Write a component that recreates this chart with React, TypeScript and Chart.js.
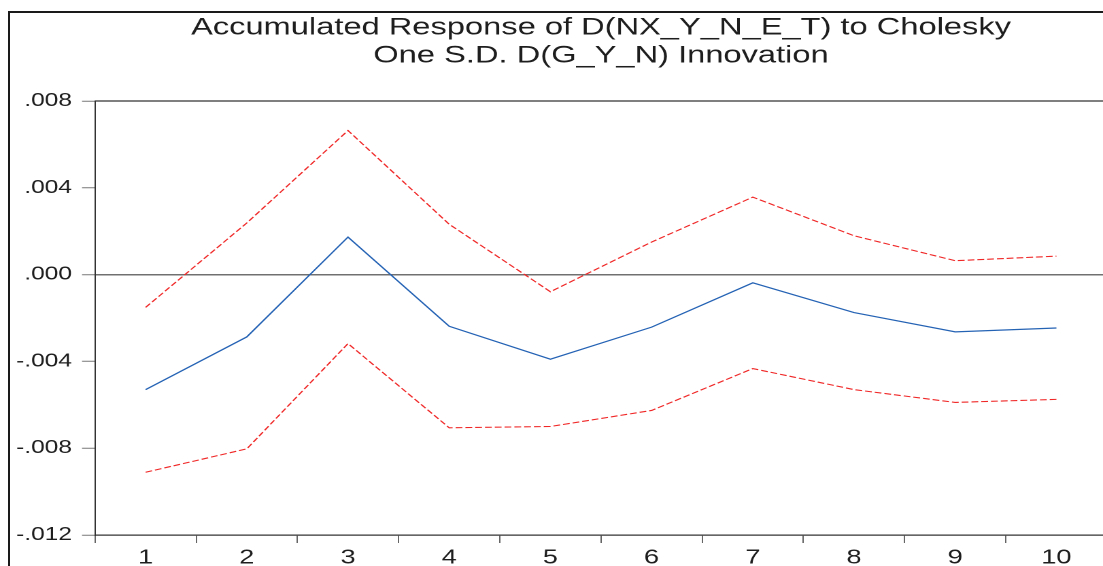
import React, { useEffect, useRef } from "react";
import { Chart, registerables } from "chart.js";

Chart.register(...registerables);

const periods = ["1", "2", "3", "4", "5", "6", "7", "8", "9", "10"];
const response = [-0.0053, -0.00287, 0.00173, -0.00238, -0.0039, -0.00242, -0.00038, -0.00175, -0.00264, -0.00246];
const upperBand = [-0.00151, 0.00238, 0.00664, 0.00232, -0.00079, 0.0015, 0.00357, 0.00179, 0.00064, 0.00085];
const lowerBand = [-0.00911, -0.00803, -0.00318, -0.00706, -0.007, -0.00626, -0.00433, -0.0053, -0.00589, -0.00575];
const yTicks = [-0.012, -0.008, -0.004, 0, 0.004, 0.008];
const titleLines = ["Accumulated Response of D(NX_Y_N_E_T) to Cholesky", "One S.D. D(G_Y_N) Innovation"];

const S = 1.36; // horizontal stretch of the original picture
const W = 820;
const H = 566;
const FONT = "'Liberation Sans', Arial, sans-serif";

const fmt = (v: number) => {
  const s = Number(v).toFixed(3);
  return s.replace(/^(-?)0\./, "$1.");
};

const topBorder = {
  id: "topBorder",
  afterDraw(chart: any) {
    const { ctx, chartArea } = chart;
    ctx.save();
    ctx.strokeStyle = "#333";
    ctx.lineWidth = 1.2;
    ctx.beginPath();
    ctx.moveTo(chartArea.left, chartArea.top);
    ctx.lineTo(chartArea.right + 10, chartArea.top);
    ctx.stroke();
    ctx.restore();
  },
};

export default function App() {
  const ref = useRef<HTMLCanvasElement | null>(null);

  useEffect(() => {
    if (!ref.current) return;
    const chart = new Chart(ref.current, {
      type: "line",
      data: {
        labels: periods,
        datasets: [
          {
            data: upperBand,
            borderColor: "#f02626",
            borderWidth: 1.1,
            borderDash: [5, 2.2],
            pointRadius: 0,
            tension: 0,
          },
          {
            data: lowerBand,
            borderColor: "#f02626",
            borderWidth: 1.1,
            borderDash: [5, 2.2],
            pointRadius: 0,
            tension: 0,
          },
          {
            data: response,
            borderColor: "#2462b4",
            borderWidth: 1.2,
            pointRadius: 0,
            tension: 0,
          },
        ],
      },
      options: {
        animation: false,
        responsive: false,
        devicePixelRatio: 2,
        layout: { padding: { left: 0, right: W - 1107 / S, top: 0, bottom: 0 } },
        plugins: {
          legend: { display: false },
          tooltip: { enabled: false },
          title: {
            display: true,
            text: titleLines,
            fullSize: false,
            color: "#1e1e1e",
            font: { family: FONT, size: 24, weight: "normal", lineHeight: 28 / 24 },
            padding: { top: 14, bottom: 31 },
          },
        },
        scales: {
          x: {
            type: "category",
            offset: true,
            afterFit: (scale: any) => {
              scale.height = 31;
            },
            grid: {
              offset: true,
              drawOnChartArea: false,
              drawTicks: true,
              tickLength: 8,
              tickColor: "#666",
              tickWidth: 1,
            },
            border: { display: true, color: "#333", width: 1.2 },
            ticks: {
              color: "#1e1e1e",
              font: { family: FONT, size: 20 },
              padding: 3,
              maxRotation: 0,
              autoSkip: false,
            },
          },
          y: {
            min: -0.012,
            max: 0.008,
            afterFit: (scale: any) => {
              scale.width = 95 / S;
            },
            afterBuildTicks: (scale: any) => {
              scale.ticks = yTicks.map((v) => ({ value: v }));
            },
            grid: {
              drawOnChartArea: true,
              drawTicks: true,
              tickLength: 13 / S,
              tickColor: "#777",
              tickWidth: 1,
              lineWidth: 1.5,
              color: (c: any) =>
                c.tick && Math.abs(c.tick.value) < 1e-12 ? "#707070" : "rgba(0,0,0,0)",
            },
            border: { display: true, color: "#333", width: 1 },
            ticks: {
              color: "#1e1e1e",
              font: { family: FONT, size: 18 },
              padding: 7.4,
              callback: (v: any) => fmt(Number(v)),
            },
          },
        },
      },
      plugins: [topBorder],
    } as any);
    return () => chart.destroy();
  }, []);

  return (
    <div
      style={{
        position: "fixed",
        left: 0,
        top: 0,
        width: 1103,
        height: H,
        overflow: "hidden",
        background: "#fff",
      }}
    >
      <div
        style={{
          position: "absolute",
          left: 8,
          top: 11,
          width: 1200,
          height: 700,
          borderLeft: "2px solid #1a1a1a",
          borderTop: "2px solid #1a1a1a",
        }}
      />
      <div
        style={{
          position: "absolute",
          left: 0,
          top: 0,
          width: W,
          height: H,
          transform: `scaleX(${S})`,
          transformOrigin: "0 0",
        }}
      >
        <canvas ref={ref} width={W} height={H} style={{ display: "block" }} />
      </div>
    </div>
  );
}
